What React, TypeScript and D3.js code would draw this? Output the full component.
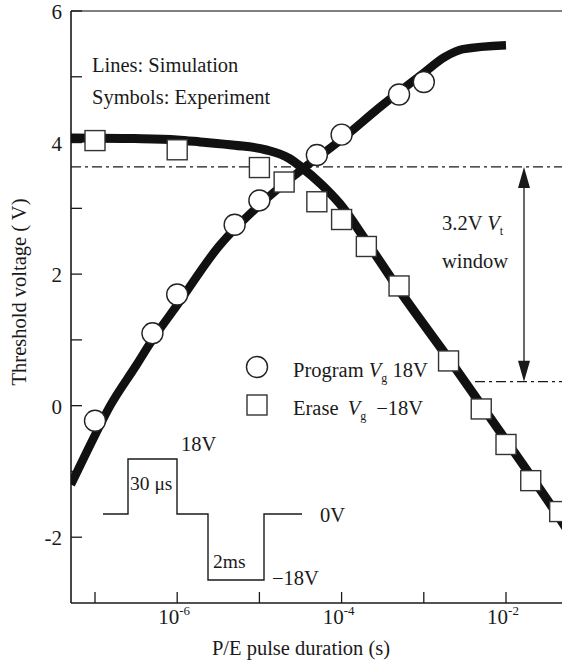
import React from "react";
import * as d3 from "d3";

// experiment symbols
const programT = [1e-7, 5e-7, 1e-6, 5e-6, 1e-5, 5e-5, 1e-4, 5e-4, 1e-3];
const programV = [-0.23, 1.1, 1.69, 2.75, 3.12, 3.81, 4.12, 4.73, 4.92];
const eraseT = [1e-7, 1e-6, 1e-5, 2e-5, 5e-5, 1e-4, 2e-4, 5e-4, 2e-3, 5e-3, 1e-2, 2e-2, 4.5e-2];
const eraseV = [4.03, 3.89, 3.62, 3.4, 3.1, 2.83, 2.42, 1.82, 0.68, -0.05, -0.59, -1.14, -1.61];

// simulation lines
const progSimT = [5.1e-8, 1e-7, 1.5e-7, 3.2e-7, 4.8e-7, 1e-6, 3.2e-6, 1e-5, 3e-5, 1e-4, 3e-4, 1e-3, 1.8e-3, 3e-3, 1e-2];
const progSimV = [-1.2, -0.45, -0.02, 0.62, 0.97, 1.53, 2.42, 3.05, 3.55, 4.05, 4.55, 5.06, 5.3, 5.42, 5.48];
const eraseSimT = [5.1e-8, 3e-7, 1e-6, 1.9e-6, 5e-6, 1.2e-5, 2.3e-5, 3.2e-5, 5.6e-5, 9.5e-5, 2e-4, 5e-4, 2.1e-3, 8.5e-3, 4.6e-2, 6e-2];
const eraseSimV = [4.07, 4.06, 4.04, 4.01, 3.96, 3.89, 3.76, 3.63, 3.37, 3.07, 2.5, 1.76, 0.68, -0.4, -1.73, -1.95];

const xTicks = [1e-7, 1e-6, 1e-5, 1e-4, 1e-3, 1e-2];
const xLabels = [
  { t: 1e-6, exp: "-6" },
  { t: 1e-4, exp: "-4" },
  { t: 1e-2, exp: "-2" },
];
const yTicks = [-2, -1, 0, 1, 2, 3, 4, 5, 6];
const yLabels = [-2, 0, 2, 4, 6];

const windowTop = 3.63;
const windowBottom = 0.365;

const font = "'Liberation Serif', 'Times New Roman', serif";
const ink = "#1a1a1a";

export default function App() {
  const W = 562;
  const H = 664;
  const left = 71;
  const right = 562;
  const top = 11;
  const bottom = 603;

  const x = d3.scaleLog().domain([1e-7, 1e-2]).range([95, 506]);
  const y = d3.scaleLinear().domain([-3, 6]).range([bottom, top]);

  const line = d3
    .line<[number, number]>()
    .x((d) => x(d[0]))
    .y((d) => y(d[1]))
    .curve(d3.curveMonotoneX);

  const progPath = line(progSimT.map((t, i) => [t, progSimV[i]]))!;
  const erasePath = line(eraseSimT.map((t, i) => [t, eraseSimV[i]]))!;

  const arrowX = 524;
  const yTop = y(windowTop);
  const yBot = y(windowBottom);

  // pulse waveform (schematic, screen coords)
  const pulse = "M103,514 H128 V459 H177 V514 H208 V580 H264 V514 H302";

  return (
    <svg
      width={W}
      height={H}
      style={{ position: "absolute", left: 0, top: 0, background: "#fff" }}
      fontFamily={font}
      fill={ink}
    >
      <defs>
        <clipPath id="plot">
          <rect x={left} y={top} width={right - left + 10} height={bottom - top} />
        </clipPath>
      </defs>

      {/* frame */}
      <line x1={left} x2={right} y1={top} y2={top} stroke="#555" strokeWidth={1.3} />
      <line x1={left} x2={left} y1={top} y2={bottom} stroke={ink} strokeWidth={1.6} />
      <line x1={left} x2={right} y1={bottom} y2={bottom} stroke={ink} strokeWidth={1.6} />

      {/* ticks */}
      {yTicks.map((v) => (
        <line key={v} x1={left} x2={left + 11} y1={y(v)} y2={y(v)} stroke={ink} strokeWidth={1.3} />
      ))}
      {xTicks.map((t) => (
        <line key={t} x1={x(t)} x2={x(t)} y1={bottom} y2={bottom - 11} stroke={ink} strokeWidth={1.3} />
      ))}
      {yLabels.map((v) => (
        <text key={v} x={62} y={y(v) + 8} fontSize={21} textAnchor="end">
          {v}
        </text>
      ))}
      {xLabels.map((d) => (
        <text key={d.t} x={x(d.t) - 3} y={624} fontSize={21} textAnchor="middle">
          10
          <tspan fontSize={13} dy={-9}>
            {d.exp}
          </tspan>
        </text>
      ))}

      {/* axis titles */}
      <text x={301} y={655} fontSize={20.5} textAnchor="middle">
        P/E pulse duration (s)
      </text>
      <text transform="translate(26,292) rotate(-90)" fontSize={20.5} textAnchor="middle">
        Threshold voltage ( V)
      </text>

      {/* window lines */}
      <line x1={left} x2={right} y1={yTop} y2={yTop} stroke={ink} strokeWidth={1.2} strokeDasharray="10,4,3,4" />
      <line x1={475} x2={right} y1={yBot} y2={yBot} stroke={ink} strokeWidth={1.2} strokeDasharray="10,4,3,4" />
      <line x1={arrowX} x2={arrowX} y1={yTop + 10} y2={yBot - 10} stroke={ink} strokeWidth={1.3} />
      <path d={`M${arrowX},${yTop} L${arrowX - 6},${yTop + 21} L${arrowX + 6},${yTop + 21} Z`} fill={ink} />
      <path d={`M${arrowX},${yBot} L${arrowX - 6},${yBot - 21} L${arrowX + 6},${yBot - 21} Z`} fill={ink} />
      <text x={442} y={230} fontSize={20.5}>
        3.2V <tspan fontStyle="italic">V</tspan>
        <tspan fontSize={12} dy={5}>t</tspan>
      </text>
      <text x={442} y={268} fontSize={20.5}>
        window
      </text>

      {/* simulation lines */}
      <g clipPath="url(#plot)">
        <path d={erasePath} fill="none" stroke="#111" strokeWidth={9} />
        <path d={progPath} fill="none" stroke="#111" strokeWidth={8.5} />
      </g>

      {/* experiment symbols */}
      {eraseT.map((t, i) => (
        <rect
          key={t}
          x={x(t) - 10}
          y={y(eraseV[i]) - 10}
          width={20}
          height={20}
          fill="#fff"
          stroke="#333"
          strokeWidth={1.4}
        />
      ))}
      {programT.map((t, i) => (
        <circle key={t} cx={x(t)} cy={y(programV[i])} r={10.5} fill="#fff" stroke="#222" strokeWidth={1.4} />
      ))}

      {/* notes */}
      <text x={92} y={72} fontSize={20.5}>
        Lines: Simulation
      </text>
      <text x={92} y={104} fontSize={20.5}>
        Symbols: Experiment
      </text>

      {/* legend */}
      <circle cx={257} cy={367} r={10.5} fill="#fff" stroke="#222" strokeWidth={1.4} />
      <text x={293} y={377} fontSize={20.5}>
        Program <tspan fontStyle="italic">V</tspan>
        <tspan fontSize={12} dy={5}>g</tspan>
        <tspan dy={-5}> 18V</tspan>
      </text>
      <rect x={247} y={395} width={20} height={20} fill="#fff" stroke="#333" strokeWidth={1.4} />
      <text x={293} y={415} fontSize={20.5}>
        Erase <tspan dx={4} fontStyle="italic">V</tspan>
        <tspan fontSize={12} dy={5}>g</tspan>
        <tspan dx={10} dy={-5}>−18V</tspan>
      </text>

      {/* pulse waveform */}
      <path d={pulse} fill="none" stroke={ink} strokeWidth={1.4} />
      <text x={181} y={451} fontSize={20.5}>18V</text>
      <text x={130} y={490} fontSize={19.5}>30 μs</text>
      <text x={320} y={522} fontSize={20.5}>0V</text>
      <text x={213} y={568} fontSize={19.5}>2ms</text>
      <text x={272} y={585} fontSize={20.5}>−18V</text>
    </svg>
  );
}
